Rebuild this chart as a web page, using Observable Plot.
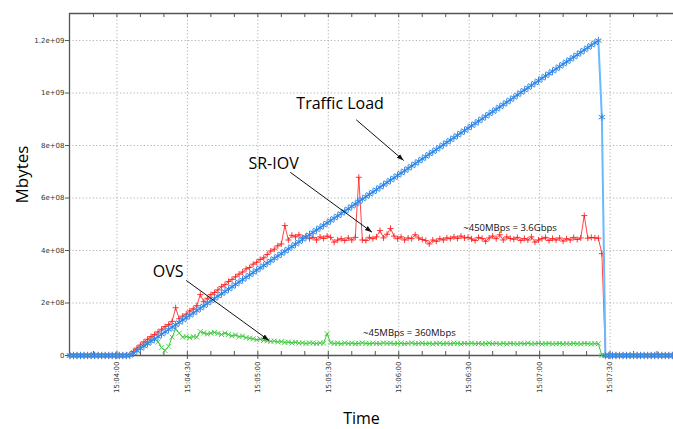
<!DOCTYPE html>
<html><head><meta charset="utf-8">
<script src="https://cdn.jsdelivr.net/npm/d3@7"></script>
<script src="https://cdn.jsdelivr.net/npm/@observablehq/plot@0.6"></script>
<style>
html,body{margin:0;padding:0;background:#fff;}
</style></head><body><div id="chart"></div>
<script>
// Sampling of the capture (one sample every 1.5 s starting 15:03:40)
const startTime = "2015-01-01T15:03:40Z";
const stepSeconds = 1.5;

// Values in Mbytes (x 1e6 bytes), one per sample
const trafficLoad = [
  0,0,0,0,0,0,0,0,0,0,
  0,0,0,0,0,0,0,0,9,18,
  27,36,45,54,63,72,81,90,99,108,
  117,126,135,144,153,162,171,180,189,199,
  208,217,226,235,244,253,262,271,280,289,
  298,307,316,325,334,343,352,361,370,379,
  388,397,406,415,424,433,442,451,460,469,
  478,487,496,505,514,523,532,541,550,559,
  568,577,586,596,605,614,623,632,641,650,
  659,668,677,686,695,704,713,722,731,740,
  749,758,767,776,785,794,803,812,821,830,
  839,848,857,866,875,884,893,902,911,920,
  929,938,947,956,965,974,983,993,1002,1011,
  1020,1029,1038,1047,1056,1065,1074,1083,1092,1101,
  1110,1119,1128,1137,1146,1155,1164,1173,1182,1191,
  1200,908,0,0,0,0,0,0,0,0,
  0,0,0,0,0,0,0,0,0,0,
  0,0
];
const srIov = [
  0,0,0,0,0,0,0,0,0,0,
  0,0,0,0,0,0,0,3,15,28,
  40,52,62,72,80,90,100,110,118,130,
  182,140,150,158,170,178,190,232,205,218,
  232,240,250,262,270,282,290,300,310,318,
  330,335,348,355,366,372,385,398,405,418,
  425,495,440,458,452,460,448,455,445,450,
  440,452,446,455,450,432,440,445,438,448,
  440,450,679,440,438,450,445,452,476,448,
  462,484,455,445,452,440,448,445,460,448,
  442,438,425,440,435,445,440,448,445,452,
  446,455,448,450,444,438,450,446,435,448,
  455,445,460,440,452,446,443,450,438,446,
  440,452,432,440,445,450,438,446,440,448,
  436,445,440,450,442,448,533,447,450,448,
  447,388,0,0,0,0,0,0,0,0,
  0,0,0,0,0,0,0,0,0,0,
  0,0
];
const ovs = [
  0,0,0,0,0,0,0,0,0,0,
  0,0,0,0,0,0,0,3,12,20,
  30,40,50,58,63,52,30,19,35,70,
  102,85,70,72,68,72,70,91,86,82,
  85,88,84,80,85,80,75,78,72,74,
  68,66,64,60,62,58,56,54,55,52,
  53,50,51,48,50,47,48,46,48,47,
  46,48,47,83,48,46,47,45,48,46,
  47,45,46,48,46,45,47,46,45,48,
  46,47,45,46,47,45,46,48,45,46,
  47,45,46,44,46,47,45,46,45,47,
  46,44,46,45,47,45,46,44,45,47,
  45,46,44,46,44,46,45,44,46,45,
  47,44,45,46,44,45,46,44,45,46,
  44,45,44,46,45,44,46,45,44,45,
  45,0,0,0,0,0,0,0,0,0,
  0,0,0,0,0,0,0,0,0,0,
  0,0
];

// Axes
const xDomain = ["2015-01-01T15:03:39.8Z", "2015-01-01T15:07:57Z"];
const yMax = 1.303e9;
const xTickLabels = ["15:04:00","15:04:30","15:05:00","15:05:30","15:06:00","15:06:30","15:07:00","15:07:30"];
const xMinorTickLabels = ["15:03:50","15:04:00","15:04:10","15:04:20","15:04:30","15:04:40","15:04:50","15:05:00","15:05:10","15:05:20","15:05:30","15:05:40","15:05:50","15:06:00","15:06:10","15:06:20","15:06:30","15:06:40","15:06:50","15:07:00","15:07:10","15:07:20","15:07:30","15:07:40","15:07:50"];
const yTickValues = [0, 2e8, 4e8, 6e8, 8e8, 1e9, 1.2e9];
const yTickLabels = ["0","2e+08","4e+08","6e+08","8e+08","1e+09","1.2e+09"];

// Annotations (data coordinates)
const labelTexts = ["Traffic Load", "SR-IOV", "OVS"];
const labelTimes = ["15:05:16.4", "15:04:56.0", "15:04:15.3"];
const labelValues = [941e6, 712e6, 298e6];
const noteTexts = ["~450MBps = 3.6Gbps", "~45MBps = 360Mbps"];
const noteTimes = ["15:06:27.5", "15:05:44.8"];
const noteValues = [476e6, 76e6];
const arrowFrom = [["15:05:41.9", 898e6], ["15:05:13.8", 698e6], ["15:04:29.5", 286e6]];
const arrowTo = [["15:06:02.1", 743e6], ["15:05:48.6", 470e6], ["15:05:04.8", 57e6]];

// ---- build tables ----
const day = "2015-01-01T";
const T = s => new Date(day + s + "Z");
const t0 = new Date(startTime).getTime();
const rows = arr => arr.map((v, i) => ({time: new Date(t0 + i * stepSeconds * 1000), value: v * 1e6}));
const ovsRows = rows(ovs), srRows = rows(srIov), tlRows = rows(trafficLoad);
const xMin = new Date(xDomain[0]), xMax = new Date(xDomain[1]);
const majorTicks = xTickLabels.map(T);
const minorTicks = xMinorTickLabels.map(T);
const labels = labelTexts.map((t, i) => ({text: t, time: T(labelTimes[i]), value: labelValues[i]}));
const notes = noteTexts.map((t, i) => ({text: t, time: T(noteTimes[i]), value: noteValues[i]}));
const arrows = arrowFrom.map((f, i) => ({x1: T(f[0]), y1: f[1], x2: T(arrowTo[i][0]), y2: arrowTo[i][1]}));

const axisColor = "#555";
const gridStyle = {stroke: "#b0b0b0", strokeDasharray: "1.2,2.2", strokeWidth: 1, strokeOpacity: 1};

const chart = Plot.plot({
  width: 673, height: 429,
  marginLeft: 69, marginRight: 0, marginTop: 13, marginBottom: 74,
  style: {fontFamily: "DejaVu Sans", background: "#fff", overflow: "visible"},
  x: {type: "utc", domain: [xMin, xMax], axis: null},
  y: {domain: [0, yMax], axis: null},
  marks: [
    Plot.gridY(yTickValues.slice(1), gridStyle),
    Plot.gridX(majorTicks, gridStyle),
    // frame lines
    Plot.ruleY([0], {stroke: axisColor, strokeWidth: 1.3}),
    Plot.ruleY([yMax], {stroke: axisColor, strokeWidth: 1.3}),
    Plot.ruleX([xMin], {stroke: axisColor, strokeWidth: 1.3}),
    // ticks
    Plot.ruleX(minorTicks, {y1: 0, y2: 0, insetTop: -4, stroke: axisColor}),
    Plot.ruleX(minorTicks, {y1: yMax, y2: yMax, insetBottom: -4, stroke: axisColor}),
    Plot.ruleX(majorTicks, {y1: 0, y2: 0, insetBottom: -4, stroke: axisColor}),
    Plot.ruleY(yTickValues, {x1: xMin, x2: xMin, insetLeft: -4, stroke: axisColor}),
    Plot.text(yTickValues, {x: xMin, y: d => d, text: (d, i) => yTickLabels[i], textAnchor: "end", dx: -5, fontSize: 7, fill: "#333"}),
    Plot.text(majorTicks, {x: d => d, y: 0, text: (d, i) => xTickLabels[i], rotate: -90, textAnchor: "end", dy: 6, fontSize: 7, fill: "#333"}),
    // series
    Plot.line(ovsRows, {x: "time", y: "value", stroke: "#3cc83c", strokeWidth: 1}),
    Plot.dot(ovsRows, {x: "time", y: "value", symbol: "times", r: 2.4, stroke: "#3cc83c", strokeWidth: 0.9}),
    Plot.line(srRows, {x: "time", y: "value", stroke: "#ff3030", strokeWidth: 0.9}),
    Plot.dot(srRows, {x: "time", y: "value", symbol: "plus", r: 2.1, stroke: "#ff2020", strokeWidth: 0.9}),
    Plot.line(tlRows, {x: "time", y: "value", stroke: "#6ab8ff", strokeWidth: 2}),
    Plot.dot(tlRows, {x: "time", y: "value", symbol: "asterisk", r: 3.5, stroke: "#2f86e6", strokeWidth: 1}),
    // annotations
    Plot.link(arrows, {x1: "x1", y1: "y1", x2: "x2", y2: "y2", stroke: "#111", strokeWidth: 1, markerEnd: "arrow"}),
    Plot.text(labels, {x: "time", y: "value", text: "text", textAnchor: "start", lineAnchor: "bottom", fontSize: 16, fontFamily: "Open Sans", fill: "#000"}),
    Plot.text(notes, {x: "time", y: "value", text: "text", textAnchor: "start", lineAnchor: "bottom", fontSize: 9.5, fontFamily: "Open Sans", fill: "#111"}),
    // axis titles
    Plot.text(["Mbytes"], {frameAnchor: "left", text: d => d, rotate: -90, dx: -47, dy: 19, fontSize: 17, fontFamily: "Open Sans", fill: "#000"}),
    Plot.text(["Time"], {frameAnchor: "bottom", text: d => d, lineAnchor: "bottom", dx: -10, dy: 68, fontSize: 16, fontFamily: "Open Sans", fill: "#000"})
  ]
});

// filled arrow heads
d3.select(chart).selectAll("marker")
  .attr("viewBox", "-10 -5 10 10")
  .attr("markerWidth", 7).attr("markerHeight", 7)
  .attr("fill", "#111").attr("stroke", "none")
  .selectAll("path").attr("d", "M-10,-3.5L0,0L-10,3.5Z");

document.getElementById("chart").append(chart);
</script>
</body></html>
